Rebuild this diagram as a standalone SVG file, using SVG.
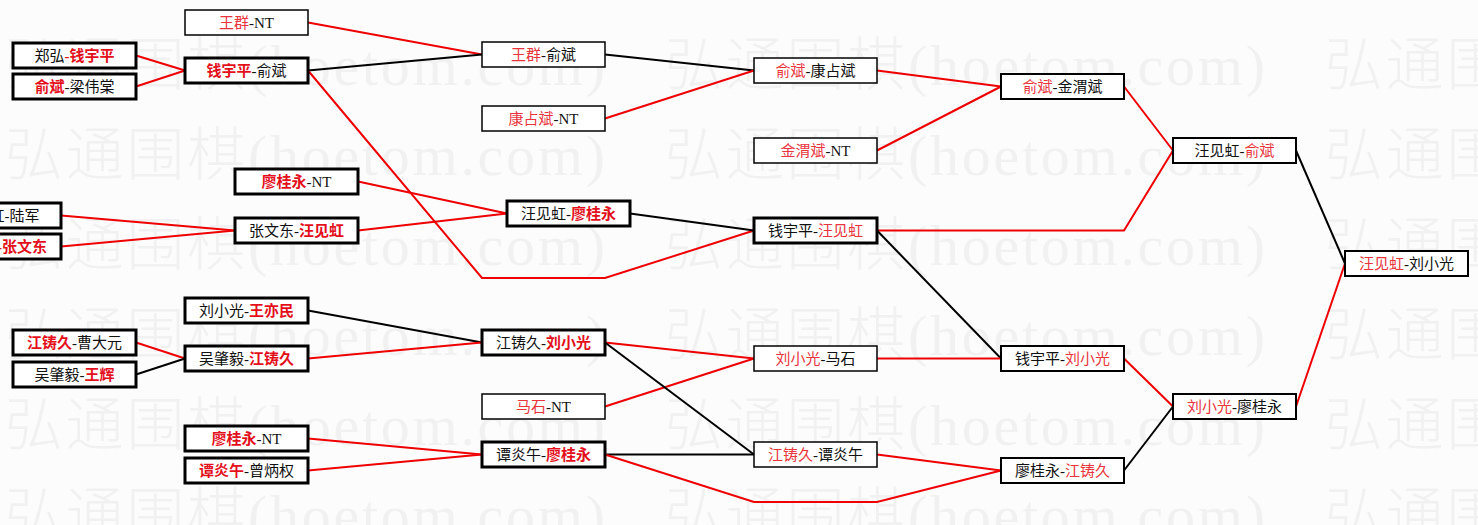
<svg xmlns="http://www.w3.org/2000/svg" width="1478" height="525" viewBox="0 0 1478 525">
<style>
.wm{font-family:"Liberation Serif","Noto Sans CJK SC",serif;font-size:58px;font-weight:300;fill:#f1f1f1}
.bk{fill:#fff;stroke:#000}
.thick{stroke-width:3}
.med{stroke-width:2}
.thin{stroke-width:1.5}
.t{font-family:"Liberation Serif","Noto Sans CJK SC",serif;font-size:15px;fill:#111;text-anchor:middle}
.r{fill:#e3101c;font-weight:bold}
.rn{fill:#e8343c}
.cr{fill:none;stroke:#ee0000;stroke-width:2}
.cb{fill:none;stroke:#000;stroke-width:2}
</style>
<rect width="1478" height="525" fill="#fcfcfc"/>
<g id="watermark">
<text class="wm" x="5" y="85" textLength="600" lengthAdjust="spacing">弘通围棋(hoetom.com)</text>
<text class="wm" x="665" y="85" textLength="600" lengthAdjust="spacing">弘通围棋(hoetom.com)</text>
<text class="wm" x="1325" y="85" textLength="600" lengthAdjust="spacing">弘通围棋(hoetom.com)</text>
<text class="wm" x="5" y="175" textLength="600" lengthAdjust="spacing">弘通围棋(hoetom.com)</text>
<text class="wm" x="665" y="175" textLength="600" lengthAdjust="spacing">弘通围棋(hoetom.com)</text>
<text class="wm" x="1325" y="175" textLength="600" lengthAdjust="spacing">弘通围棋(hoetom.com)</text>
<text class="wm" x="5" y="265" textLength="600" lengthAdjust="spacing">弘通围棋(hoetom.com)</text>
<text class="wm" x="665" y="265" textLength="600" lengthAdjust="spacing">弘通围棋(hoetom.com)</text>
<text class="wm" x="1325" y="265" textLength="600" lengthAdjust="spacing">弘通围棋(hoetom.com)</text>
<text class="wm" x="5" y="355" textLength="600" lengthAdjust="spacing">弘通围棋(hoetom.com)</text>
<text class="wm" x="665" y="355" textLength="600" lengthAdjust="spacing">弘通围棋(hoetom.com)</text>
<text class="wm" x="1325" y="355" textLength="600" lengthAdjust="spacing">弘通围棋(hoetom.com)</text>
<text class="wm" x="5" y="445" textLength="600" lengthAdjust="spacing">弘通围棋(hoetom.com)</text>
<text class="wm" x="665" y="445" textLength="600" lengthAdjust="spacing">弘通围棋(hoetom.com)</text>
<text class="wm" x="1325" y="445" textLength="600" lengthAdjust="spacing">弘通围棋(hoetom.com)</text>
<text class="wm" x="5" y="535" textLength="600" lengthAdjust="spacing">弘通围棋(hoetom.com)</text>
<text class="wm" x="665" y="535" textLength="600" lengthAdjust="spacing">弘通围棋(hoetom.com)</text>
<text class="wm" x="1325" y="535" textLength="600" lengthAdjust="spacing">弘通围棋(hoetom.com)</text>
</g>
<g id="connectors">
<path class="cr" d="M136 55.5L185 70.5"/>
<path class="cr" d="M136 86.5L185 70.5"/>
<path class="cr" d="M308 22.5L482 54.5"/>
<path class="cb" d="M308 70.5L482 54.5"/>
<path class="cr" d="M308 70.5L482 278L605 278L754 230.5"/>
<path class="cb" d="M605 54.5L754 70.5"/>
<path class="cr" d="M605 118.5L754 70.5"/>
<path class="cr" d="M877 70.5L1001 86.5"/>
<path class="cr" d="M877 150.5L1001 86.5"/>
<path class="cr" d="M1124 86.5L1173 150.5"/>
<path class="cr" d="M877 230.5L1124 230.5L1173 150.5"/>
<path class="cr" d="M358 181.5L507 213.5"/>
<path class="cr" d="M358 230.5L507 213.5"/>
<path class="cr" d="M61 215.5L235 230.5"/>
<path class="cr" d="M61 246.5L235 230.5"/>
<path class="cb" d="M630 213.5L754 230.5"/>
<path class="cb" d="M877 230.5L1001 358.5"/>
<path class="cb" d="M1296 150.5L1345 263.5"/>
<path class="cr" d="M1296 406.5L1345 263.5"/>
<path class="cb" d="M308 310.5L482 342.5"/>
<path class="cr" d="M136 342.5L185 358.5"/>
<path class="cb" d="M136 374.5L185 358.5"/>
<path class="cr" d="M308 358.5L482 342.5"/>
<path class="cr" d="M605 342.5L754 358.5"/>
<path class="cr" d="M605 406.5L754 358.5"/>
<path class="cb" d="M605 342.5L754 454.5"/>
<path class="cr" d="M877 358.5L1001 358.5"/>
<path class="cr" d="M1124 358.5L1173 406.5"/>
<path class="cb" d="M1124 470.5L1173 406.5"/>
<path class="cr" d="M308 438.5L482 454.5"/>
<path class="cr" d="M308 470.5L482 454.5"/>
<path class="cb" d="M605 454.5L754 454.5"/>
<path class="cr" d="M605 454.5L754 502L877 502L1001 470.5"/>
<path class="cr" d="M877 454.5L1001 470.5"/>
</g>
<g id="n1"><rect class="bk thick" x="13" y="43" width="123" height="25"/><text class="t" x="74.5" y="61">郑弘<tspan class="r">-钱宇平</tspan></text></g>
<g id="n2"><rect class="bk thick" x="13" y="74" width="123" height="25"/><text class="t" x="74.5" y="92"><tspan class="r">俞斌</tspan>-梁伟棠</text></g>
<g id="n3"><rect class="bk thick" x="-62" y="203" width="123" height="25"/><text class="t" x="-0.5" y="221">汪见虹-陆军</text></g>
<g id="n4"><rect class="bk thick" x="-62" y="234" width="123" height="25"/><text class="t" x="47" y="252" style="text-anchor:end"><tspan class="r">-张文东</tspan></text></g>
<g id="n5"><rect class="bk thin" x="185" y="10" width="123" height="25"/><text class="t" x="246.5" y="28"><tspan class="rn">王群</tspan>-NT</text></g>
<g id="n6"><rect class="bk thick" x="185" y="58" width="123" height="25"/><text class="t" x="246.5" y="76"><tspan class="r">钱宇平</tspan>-俞斌</text></g>
<g id="n7"><rect class="bk thick" x="235" y="169" width="123" height="25"/><text class="t" x="296.5" y="187"><tspan class="r">廖桂永</tspan>-NT</text></g>
<g id="n8"><rect class="bk thick" x="235" y="218" width="123" height="25"/><text class="t" x="296.5" y="236">张文东-<tspan class="r">汪见虹</tspan></text></g>
<g id="n9"><rect class="bk thick" x="185" y="298" width="123" height="25"/><text class="t" x="246.5" y="316">刘小光-<tspan class="r">王亦民</tspan></text></g>
<g id="n10"><rect class="bk thick" x="13" y="330" width="123" height="25"/><text class="t" x="74.5" y="348"><tspan class="r">江铸久</tspan>-曹大元</text></g>
<g id="n11"><rect class="bk thick" x="13" y="362" width="123" height="25"/><text class="t" x="74.5" y="380">吴肇毅-<tspan class="r">王辉</tspan></text></g>
<g id="n12"><rect class="bk thick" x="185" y="346" width="123" height="25"/><text class="t" x="246.5" y="364">吴肇毅-<tspan class="r">江铸久</tspan></text></g>
<g id="n13"><rect class="bk thick" x="185" y="426" width="123" height="25"/><text class="t" x="246.5" y="444"><tspan class="r">廖桂永</tspan>-NT</text></g>
<g id="n14"><rect class="bk thick" x="185" y="458" width="123" height="25"/><text class="t" x="246.5" y="476"><tspan class="r">谭炎午</tspan>-曾炳权</text></g>
<g id="n15"><rect class="bk thin" x="482" y="42" width="123" height="25"/><text class="t" x="543.5" y="60"><tspan class="rn">王群</tspan>-俞斌</text></g>
<g id="n16"><rect class="bk thin" x="482" y="106" width="123" height="25"/><text class="t" x="543.5" y="124"><tspan class="rn">康占斌</tspan>-NT</text></g>
<g id="n17"><rect class="bk thick" x="507" y="201" width="123" height="25"/><text class="t" x="568.5" y="219">汪见虹-<tspan class="r">廖桂永</tspan></text></g>
<g id="n18"><rect class="bk thick" x="482" y="330" width="123" height="25"/><text class="t" x="543.5" y="348">江铸久-<tspan class="r">刘小光</tspan></text></g>
<g id="n19"><rect class="bk thin" x="482" y="394" width="123" height="25"/><text class="t" x="543.5" y="412"><tspan class="rn">马石</tspan>-NT</text></g>
<g id="n20"><rect class="bk thick" x="482" y="442" width="123" height="25"/><text class="t" x="543.5" y="460">谭炎午-<tspan class="r">廖桂永</tspan></text></g>
<g id="n21"><rect class="bk thin" x="754" y="58" width="123" height="25"/><text class="t" x="815.5" y="76"><tspan class="rn">俞斌</tspan>-康占斌</text></g>
<g id="n22"><rect class="bk thin" x="754" y="138" width="123" height="25"/><text class="t" x="815.5" y="156"><tspan class="rn">金渭斌</tspan>-NT</text></g>
<g id="n23"><rect class="bk thick" x="754" y="218" width="123" height="25"/><text class="t" x="815.5" y="236">钱宇平-<tspan class="rn">汪见虹</tspan></text></g>
<g id="n24"><rect class="bk thin" x="754" y="346" width="123" height="25"/><text class="t" x="815.5" y="364"><tspan class="rn">刘小光</tspan>-马石</text></g>
<g id="n25"><rect class="bk thin" x="754" y="442" width="123" height="25"/><text class="t" x="815.5" y="460"><tspan class="rn">江铸久</tspan>-谭炎午</text></g>
<g id="n26"><rect class="bk med" x="1001" y="74" width="123" height="25"/><text class="t" x="1062.5" y="92"><tspan class="rn">俞斌</tspan>-金渭斌</text></g>
<g id="n27"><rect class="bk med" x="1001" y="346" width="123" height="25"/><text class="t" x="1062.5" y="364">钱宇平-<tspan class="rn">刘小光</tspan></text></g>
<g id="n28"><rect class="bk med" x="1001" y="458" width="123" height="25"/><text class="t" x="1062.5" y="476">廖桂永-<tspan class="rn">江铸久</tspan></text></g>
<g id="n29"><rect class="bk med" x="1173" y="138" width="123" height="25"/><text class="t" x="1234.5" y="156">汪见虹-<tspan class="rn">俞斌</tspan></text></g>
<g id="n30"><rect class="bk med" x="1173" y="394" width="123" height="25"/><text class="t" x="1234.5" y="412"><tspan class="rn">刘小光</tspan>-廖桂永</text></g>
<g id="n31"><rect class="bk med" x="1345" y="251" width="123" height="25"/><text class="t" x="1406.5" y="269"><tspan class="rn">汪见虹</tspan>-刘小光</text></g>
</svg>
